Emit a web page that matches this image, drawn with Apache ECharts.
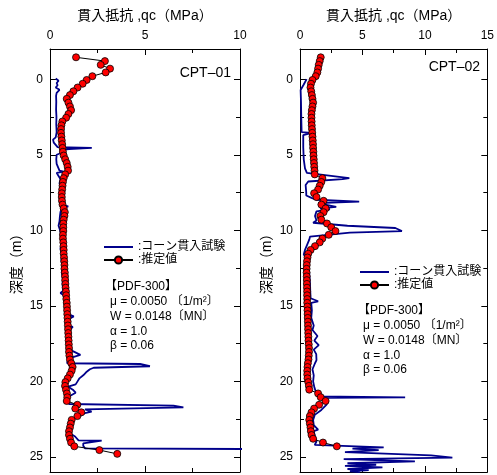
<!DOCTYPE html>
<html>
<head>
<meta charset="utf-8">
<script src="https://cdn.jsdelivr.net/npm/echarts@6/dist/echarts.min.js"></script>
<style>html,body{margin:0;padding:0;background:#fff}#c{width:497px;height:475px}</style>
</head>
<body>
<div id="c"></div>
<script>
// ---------- data ----------
const xTitle = '貫入抵抗 ,qc（MPa）';
const yTitle = '深度（m）';
const cptNames = ['CPT–01', 'CPT–02'];
const legendNames = [':コーン貫入試験', ':推定値'];
const noteLines = ['【PDF-300】', 'μ = 0.0050 〔1/m²〕', 'W = 0.0148〔MN〕', 'α = 1.0', 'β = 0.06'];
const depthLabels = [0, 5, 10, 15, 20, 25];
const depthMinorTicks = [2.5, 7.5, 12.5, 17.5, 22.5];

// CPT-01 cone test (raw) : depth (m) and qc (MPa)
const cpt1RawDepth = [-0.05,0.1,0.25,0.4,0.55,0.7,0.9,1.1,1.5,2.0,2.5,3.0,3.5,3.85,4.0,4.2,4.35,4.5,4.55,4.62,4.7,4.9,5.0,5.3,5.6,5.9,6.05,6.12,6.2,6.4,6.6,6.9,7.2,7.45,7.7,7.9,8.1,8.3,8.42,8.55,8.8,9.1,9.4,9.7,10.0,10.4,10.8,11.2,11.6,12.0,12.4,12.8,13.2,13.6,14.0,14.15,14.3,14.7,15.1,15.3,15.5,15.7,15.9,16.1,16.3,16.4,16.7,17.0,17.4,17.8,18.0,18.25,18.5,18.8,18.85,19.0,19.1,19.2,19.3,19.4,19.6,19.8,20.0,20.2,20.35,20.55,20.75,21.0,21.3,21.5,21.6,21.72,21.85,22.0,22.1,22.3,22.45,22.7,23.0,23.4,23.65,23.9,23.93,24.1,24.27,24.43,24.48,24.5];
const cpt1RawQc = [0.30,0.45,0.35,0.40,0.30,0.50,0.35,0.32,0.33,0.32,0.34,0.33,0.35,0.30,0.16,0.20,0.30,0.40,2.20,1.00,0.55,0.55,0.35,0.33,0.35,0.45,0.50,0.72,0.35,0.45,0.55,0.50,0.60,0.60,0.68,0.70,0.65,0.55,0.96,0.62,0.55,0.52,0.50,0.45,0.53,0.60,0.62,0.55,0.63,0.60,0.65,0.62,0.68,0.66,0.70,0.55,0.72,0.75,0.80,0.98,0.85,1.25,0.95,1.05,0.90,1.20,0.95,1.00,0.95,1.05,1.20,1.60,0.95,0.90,4.74,5.26,2.30,2.10,2.20,1.90,1.75,1.55,1.45,1.35,0.96,1.20,1.35,1.00,0.95,1.00,6.50,7.02,1.84,2.19,1.84,1.58,1.32,1.00,0.96,1.00,1.32,1.50,2.72,1.75,1.75,1.84,10.5,12.0];

// CPT-01 estimated values
const cpt1EstDepth = [-1.45,-1.2,-0.95,-0.7,-0.45,-0.2,0.05,0.3,0.55,0.8,1.05,1.3,1.55,1.8,2.05,2.3,2.55,2.8,3.05,3.3,3.55,3.8,4.05,4.3,4.55,4.8,5.05,5.3,5.55,5.8,6.05,6.3,6.55,6.8,7.05,7.3,7.55,7.8,8.05,8.3,8.55,8.8,9.05,9.3,9.55,9.8,10.05,10.3,10.55,10.8,11.05,11.3,11.55,11.8,12.05,12.3,12.55,12.8,13.05,13.3,13.55,13.8,14.05,14.3,14.55,14.8,15.05,15.3,15.55,15.8,16.05,16.3,16.55,16.8,17.05,17.3,17.55,17.8,18.05,18.3,18.55,18.8,19.05,19.3,19.55,19.8,20.05,20.3,20.55,20.8,21.05,21.3,21.55,21.8,22.05,22.3,22.55,22.8,23.05,23.3,23.55,23.8,24.05,24.3,24.55,24.8];
const cpt1EstQc = [1.37,2.89,2.67,3.16,2.93,2.23,1.93,1.72,1.45,1.23,1.05,0.88,0.97,1.05,1.11,0.97,0.85,0.65,0.60,0.58,0.58,0.60,0.62,0.64,0.66,0.68,0.72,0.80,0.88,0.93,0.95,0.80,0.72,0.68,0.66,0.64,0.62,0.62,0.63,0.66,0.72,0.78,0.76,0.72,0.70,0.70,0.70,0.68,0.68,0.70,0.71,0.72,0.72,0.74,0.75,0.76,0.76,0.78,0.79,0.80,0.81,0.82,0.84,0.85,0.86,0.88,0.89,0.90,0.91,0.92,0.93,0.94,0.95,0.96,0.97,0.98,0.99,1.00,1.00,1.02,1.05,1.12,1.19,1.14,1.05,0.93,0.81,0.79,0.84,0.89,0.91,0.88,1.44,1.33,1.65,1.44,1.14,1.09,1.05,1.00,1.00,1.05,1.11,1.28,2.60,3.54];

// CPT-02 cone test (raw)
const cpt2RawDepth = [-0.01,0.35,0.71,1.5,2.5,3.5,3.55,3.65,3.7,4.5,5.3,5.9,6.2,6.3,6.55,6.62,6.77,7.0,7.5,7.7,7.85,7.98,8.1,8.2,8.3,8.45,8.55,8.62,8.75,9.05,9.35,9.5,9.7,9.85,10.05,10.15,10.42,10.6,10.7,10.9,11.3,11.6,11.9,12.2,12.6,13.0,13.5,14.0,14.5,14.7,14.8,15.3,15.8,16.3,16.6,17.0,17.3,17.6,17.9,18.2,18.6,18.8,19.2,19.6,20.0,20.4,20.8,21.0,21.06,21.1,21.23,21.34,21.56,21.89,22.22,22.55,22.9,23.2,23.3,23.65,23.98,24.2,24.33,24.37,24.45,24.55,24.68,24.9,25.05,25.15,25.3,25.42,25.52,25.6,25.7,25.8,25.88,25.95,26.0];
const cpt2RawQc = [0.53,0.30,0.05,0.08,0.10,0.13,0.92,0.90,0.26,0.26,0.30,0.40,0.55,0.60,3.95,3.40,0.66,0.45,0.50,0.50,0.92,1.32,4.74,1.45,1.60,2.90,1.60,2.40,1.32,1.20,1.32,1.05,3.80,7.63,8.16,4.00,0.80,0.75,0.66,0.60,0.40,0.30,0.55,0.70,0.72,0.75,0.80,0.82,0.85,1.45,0.90,0.95,0.90,1.10,1.00,1.40,1.15,1.50,1.10,1.30,1.32,1.20,1.00,1.10,1.05,1.15,1.32,1.50,8.42,2.00,1.84,2.24,2.11,1.71,1.18,1.05,1.10,1.45,1.10,1.20,1.32,1.18,1.05,6.70,4.20,6.30,3.60,10.5,12.2,3.50,9.20,3.80,6.10,3.60,6.60,3.80,5.50,4.00,4.80];

// CPT-02 estimated values
const cpt2EstDepth = [-1.45,-1.2,-0.95,-0.7,-0.45,-0.2,0.05,0.3,0.55,0.8,1.05,1.3,1.55,1.8,2.05,2.3,2.55,2.8,3.05,3.3,3.55,3.8,4.05,4.3,4.55,4.8,5.05,5.3,5.55,5.8,6.05,6.3,6.55,6.8,7.05,7.3,7.55,7.8,8.05,8.3,8.55,8.8,9.05,9.3,9.55,9.8,10.05,10.3,10.55,10.8,11.05,11.3,11.55,11.8,12.05,12.3,12.55,12.8,13.05,13.3,13.55,13.8,14.05,14.3,14.55,14.8,15.05,15.3,15.55,15.8,16.05,16.3,16.55,16.8,17.05,17.3,17.55,17.8,18.05,18.3,18.55,18.8,19.05,19.3,19.55,19.8,20.05,20.3,20.55,20.8,21.05,21.3,21.55,21.8,22.05,22.3,22.55,22.8,23.05,23.3,23.55,23.8,24.05,24.3];
const cpt2EstQc = [1.66,1.58,1.50,1.45,1.39,1.26,1.00,0.88,0.84,0.90,0.95,1.00,1.05,1.00,0.95,0.92,0.92,0.93,0.94,0.96,0.98,1.00,1.02,1.04,1.05,1.07,1.08,1.10,1.12,1.14,1.16,1.18,1.79,1.71,1.58,1.45,1.13,1.32,1.89,1.71,2.05,1.89,1.63,1.71,2.16,2.50,2.84,2.30,1.79,1.58,1.20,0.85,0.66,0.60,0.56,0.54,0.53,0.53,0.54,0.55,0.55,0.56,0.57,0.57,0.58,0.58,0.59,0.60,0.61,0.62,0.63,0.64,0.65,0.66,0.67,0.68,0.70,0.72,0.72,0.70,0.68,0.63,0.60,0.58,0.58,0.60,0.66,0.71,0.74,1.45,1.66,2.05,1.53,1.13,0.92,0.79,0.74,0.79,0.84,0.87,0.92,1.05,1.84,2.95];

// ---------- chart ----------
const FONT = "'Liberation Sans', Arial, 'Noto Sans CJK JP', sans-serif";
const pair = (qc, d) => qc.map((v, i) => [v, d[i]]);
const grids = [{left: 50, top: 49, width: 190, height: 423}, {left: 300, top: 49, width: 190, height: 423}];
const xMax = [10, 15];
const BLUE = '#00008b';

const xAxes = [], yAxes = [], series = [];
grids.forEach((g, gi) => {
  const baseX = {type: 'value', gridIndex: gi, min: 0, max: xMax[gi], interval: 5, splitLine: {show: false},
    axisLine: {onZero: false, lineStyle: {color: '#000', width: 1}},
    axisTick: {inside: true, length: 6, lineStyle: {color: '#000'}},
    minorTick: {show: true, splitNumber: 2, length: 4, lineStyle: {color: '#000'}}};
  xAxes.push(Object.assign({}, baseX, {position: 'top', name: xTitle, nameLocation: 'middle', nameGap: 26,
    nameTextStyle: {fontSize: 14, color: '#000', fontFamily: FONT},
    axisLabel: {fontSize: 12, color: '#000', margin: 7, fontFamily: FONT}}));
  xAxes.push(Object.assign({}, baseX, {position: 'bottom', axisLabel: {show: false}}));
  const baseY = {type: 'value', gridIndex: gi, min: -2, max: 26, inverse: true, splitLine: {show: false}};
  yAxes.push(Object.assign({}, baseY, {position: 'left', name: yTitle, nameLocation: 'middle', nameGap: 26,
    nameTextStyle: {fontSize: 14, color: '#000', fontFamily: FONT},
    axisLine: {onZero: false, lineStyle: {color: '#000', width: 1}},
    axisTick: {inside: true, length: 6, customValues: depthLabels, lineStyle: {color: '#000'}},
    axisLabel: {fontSize: 12, color: '#000', margin: 7, customValues: depthLabels, fontFamily: FONT}}));
  yAxes.push(Object.assign({}, baseY, {position: 'right',
    axisLine: {onZero: false, lineStyle: {color: '#000', width: 1}},
    axisTick: {inside: true, length: 6, customValues: depthLabels, lineStyle: {color: '#000'}},
    axisLabel: {show: false}}));
  yAxes.push(Object.assign({}, baseY, {position: 'left', axisLine: {show: false, onZero: false},
    axisTick: {inside: true, length: 4, customValues: depthMinorTicks, lineStyle: {color: '#000'}},
    axisLabel: {show: false}}));
  yAxes.push(Object.assign({}, baseY, {position: 'right', axisLine: {show: false, onZero: false},
    axisTick: {inside: true, length: 4, customValues: depthMinorTicks, lineStyle: {color: '#000'}},
    axisLabel: {show: false}}));
});

const raw = [pair(cpt1RawQc, cpt1RawDepth), pair(cpt2RawQc, cpt2RawDepth)];
const est = [pair(cpt1EstQc, cpt1EstDepth), pair(cpt2EstQc, cpt2EstDepth)];
[0, 1].forEach(gi => {
  series.push({name: legendNames[0], type: 'line', xAxisIndex: gi * 2, yAxisIndex: gi * 4, data: raw[gi],
    symbol: 'none', clip: true, z: 2, itemStyle: {color: BLUE}, lineStyle: {color: BLUE, width: 1.8}});
  series.push({name: legendNames[1], type: 'line', xAxisIndex: gi * 2, yAxisIndex: gi * 4, data: est[gi],
    symbol: 'circle', symbolSize: 7, clip: true, z: 3,
    itemStyle: {color: '#ff0000', borderColor: '#000', borderWidth: 0.8},
    lineStyle: {color: '#000', width: 1}});
});

const legendPos = [{left: 103, top: 241}, {left: 359, top: 266}];
const legends = legendPos.map(p => ({
  left: p.left, top: p.top, orient: 'vertical', padding: 0, itemWidth: 29, itemHeight: 9, itemGap: 1,
  selectedMode: false, textStyle: {fontSize: 12, lineHeight: 12, color: '#000', fontFamily: FONT},
  data: [
    {name: legendNames[0], itemStyle: {opacity: 0}, lineStyle: {color: BLUE, width: 2}},
    {name: legendNames[1]}
  ]
}));

const graphics = [];
const cptPos = [{x: 231, y: 73}, {x: 480, y: 67}];
cptPos.forEach((p, i) => graphics.push({type: 'text', x: p.x, y: p.y,
  style: {text: cptNames[i], font: '14px ' + FONT, fill: '#000', textAlign: 'right', textVerticalAlign: 'middle'}}));
const notePos = [{x: 105, ys: [287, 302, 317, 331.5, 346]}, {x: 358, ys: [311, 326, 340.5, 355.5, 370]}];
notePos.forEach(p => noteLines.forEach((t, i) => graphics.push({type: 'text', x: p.x + (i === 0 ? 0 : 5), y: p.ys[i],
  style: {text: t, font: '12px ' + FONT, fill: '#000', textAlign: 'left', textVerticalAlign: 'middle'}})));

const chart = echarts.init(document.getElementById('c'), null, {renderer: 'canvas'});
chart.setOption({
  animation: false,
  textStyle: {fontFamily: FONT, color: '#000'},
  grid: grids,
  xAxis: xAxes,
  yAxis: yAxes,
  legend: legends,
  series: series,
  graphic: graphics
});
</script>
</body>
</html>
